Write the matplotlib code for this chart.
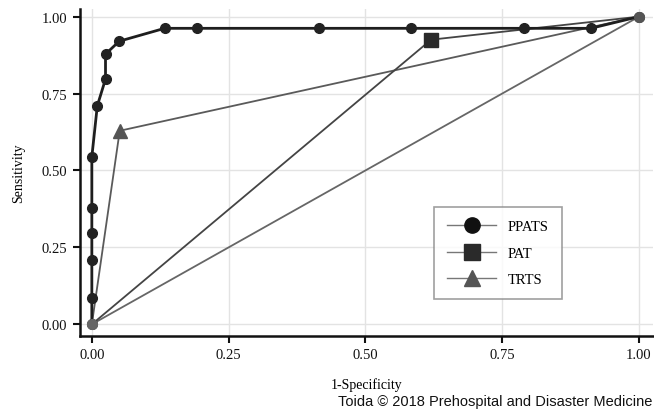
import matplotlib
matplotlib.use("Agg")
import matplotlib.pyplot as plt
from matplotlib.lines import Line2D

# ROC curve points (1-specificity, sensitivity)
ppats_fpr = [0.0, 0.0, 0.0, 0.0, 0.0, 0.0, 0.01, 0.025, 0.025, 0.05, 0.133, 0.193, 0.416, 0.584, 0.79, 0.912, 1.0]
ppats_tpr = [0.0, 0.085, 0.208, 0.296, 0.377, 0.544, 0.71, 0.797, 0.878, 0.92, 0.962, 0.962, 0.962, 0.962, 0.962, 0.962, 1.0]
pat_fpr = [0.0, 0.62, 1.0]
pat_tpr = [0.0, 0.925, 1.0]
trts_fpr = [0.0, 0.051, 1.0]
trts_tpr = [0.0, 0.629, 1.0]
ref_line = [0.0, 1.0]

ticks = [0.0, 0.25, 0.5, 0.75, 1.0]
tick_labels = ["0.00", "0.25", "0.50", "0.75", "1.00"]

plt.rcParams['font.family'] = ['Liberation Serif', 'DejaVu Serif']

fig = plt.figure(figsize=(6.54, 4.14), dpi=100)
ax = fig.add_axes([0.122, 0.186, 0.876, 0.79])

ax.plot(ref_line, ref_line, color='#666666', lw=1.3, zorder=2)
ax.plot(trts_fpr, trts_tpr, color='#5a5a5a', lw=1.3, zorder=3)
ax.plot(pat_fpr, pat_tpr, color='#444444', lw=1.3, zorder=3)
ax.plot(ppats_fpr, ppats_tpr, color='#1e1e1e', lw=2.0, zorder=4)

# markers
ax.plot(ppats_fpr, ppats_tpr, 'o', color='#222222', ms=7, zorder=5, lw=0)
ax.plot(pat_fpr[1:2], pat_tpr[1:2], 's', color='#2a2a2a', ms=10, zorder=5)
ax.plot(trts_fpr[1:2], trts_tpr[1:2], '^', color='#555555', ms=10, zorder=5)
ax.plot([0], [0], 'o', color='#666666', ms=7, zorder=6)
ax.plot([1], [1], 'o', color='#555555', ms=7, zorder=6)

ax.set_xlim(-0.022, 1.025)
ax.set_ylim(-0.038, 1.025)
ax.set_xticks(ticks)
ax.set_xticklabels(tick_labels)
ax.set_yticks(ticks)
ax.set_yticklabels(tick_labels)
ax.grid(True, color='#e3e3e3', lw=1.0)
ax.set_axisbelow(True)
for s in ['top', 'right']:
    ax.spines[s].set_visible(False)
for s in ['left', 'bottom']:
    ax.spines[s].set_linewidth(1.8)
    ax.spines[s].set_color('#111111')
ax.tick_params(direction='out', length=5, width=1.5, labelsize=10.5, colors='#111111', pad=4)

ax.set_xlabel('1-Specificity', fontsize=10, labelpad=11)
ax.set_ylabel('Sensitivity', fontsize=10, labelpad=12)

handles = [
    Line2D([0], [0], color='#777777', lw=1, marker='o', ms=11, markerfacecolor='#111111', markeredgecolor='#111111'),
    Line2D([0], [0], color='#777777', lw=1, marker='s', ms=11, markerfacecolor='#2a2a2a', markeredgecolor='#2a2a2a'),
    Line2D([0], [0], color='#777777', lw=1, marker='^', ms=11, markerfacecolor='#555555', markeredgecolor='#555555'),
]
leg = ax.legend(handles, ['PPATS', 'PAT', 'TRTS'], loc='lower left', bbox_to_anchor=(0.605, 0.09),
                fontsize=10.5, frameon=True, fancybox=False, edgecolor='#888888',
                handlelength=3.4, labelspacing=0.9, borderpad=0.9, handletextpad=0.8)
leg.get_frame().set_linewidth(1.2)

fig.text(0.997, 0.012, 'Toida \u00a9 2018 Prehospital and Disaster Medicine', ha='right', va='bottom',
         fontsize=10.5, family=['Liberation Sans', 'DejaVu Sans'], color='#111111')

fig.savefig('out.png', dpi=100)
